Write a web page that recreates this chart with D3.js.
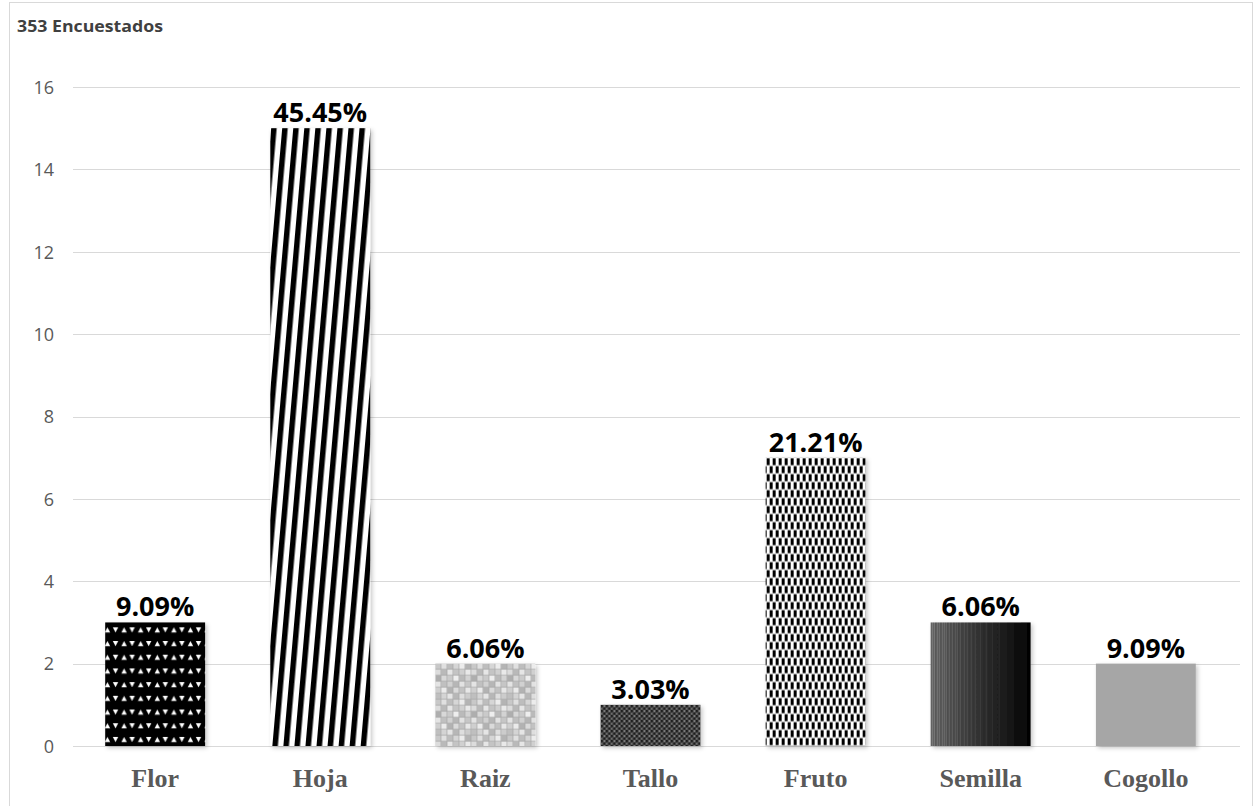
<!DOCTYPE html>
<html>
<head>
<meta charset="utf-8">
<script src="https://cdn.jsdelivr.net/npm/d3@7"></script>
<style>
  html, body { margin: 0; padding: 0; background: #fff; }
  svg { display: block; }
</style>
</head>
<body>
<svg id="chart" width="1255" height="806"></svg>
<script>
// Partes de la planta utilizadas
const categories = ["Flor", "Hoja", "Raiz", "Tallo", "Fruto", "Semilla", "Cogollo"];
const counts = [3, 15, 2, 1, 7, 3, 2];
const percentLabels = ["9.09%", "45.45%", "6.06%", "3.03%", "21.21%", "6.06%", "9.09%"];
const yTicks = [0, 2, 4, 6, 8, 10, 12, 14, 16];
const fillIds = ["pFlor", "pHoja", "pRaiz", "pTallo", "pFruto", "pSemilla", null];

// tonos del mosaico gris (fila por fila)
const mosaicShades = [
  "#c8c8c8","#e0e0e0","#bdbdbd","#d6d6d6","#ececec","#b4b4b4",
  "#dcdcdc","#b9b9b9","#e6e6e6","#c4c4c4","#d0d0d0","#e9e9e9",
  "#aeaeae","#d8d8d8","#cacaca","#eeeeee","#bababa","#d3d3d3",
  "#e4e4e4","#c0c0c0","#d1d1d1","#b6b6b6","#e2e2e2","#c6c6c6",
  "#cfcfcf","#ebebeb","#b2b2b2","#dadada","#c2c2c2","#e7e7e7",
  "#bfbfbf","#d4d4d4","#e5e5e5","#b7b7b7","#dedede","#cccccc"
];

const svg = d3.select("#chart");

// marco exterior
svg.append("rect").attr("x", 9.5).attr("y", 2.5).attr("width", 1243).attr("height", 810)
  .attr("fill", "#fff").attr("stroke", "#d9d9d9").attr("stroke-width", 1);

// Escalas
const x = d3.scaleBand().domain(categories).range([73, 1228]).paddingInner(0.395).paddingOuter(0.195);
const y = d3.scaleLinear().domain([0, 16]).range([746, 87]);

const defs = svg.append("defs");

// Sombra de las barras
const sh = defs.append("filter").attr("id", "shadow").attr("x", "-10%").attr("y", "-10%").attr("width", "130%").attr("height", "130%");
sh.append("feDropShadow").attr("dx", 2).attr("dy", 2).attr("stdDeviation", 2)
  .attr("flood-color", "#000").attr("flood-opacity", 0.22);

const bx = c => x(c);
const by = i => y(counts[i]);

// Flor: triángulos blancos sobre negro
const pf = defs.append("pattern").attr("id", "pFlor").attr("patternUnits", "userSpaceOnUse")
  .attr("width", 16.6).attr("height", 13.7).attr("x", bx("Flor") - 2).attr("y", by(0));
pf.append("rect").attr("width", 16.6).attr("height", 13.7).attr("fill", "#000");
pf.append("path").attr("d", "M1.6,10 L4.3,5 L7,10 Z").attr("fill", "#fff");
pf.append("path").attr("d", "M9.6,5 L15,5 L12.3,10 Z").attr("fill", "#fff");

// Hoja: franjas diagonales
const ph = defs.append("pattern").attr("id", "pHoja").attr("patternUnits", "userSpaceOnUse")
  .attr("width", 11).attr("height", 40).attr("x", bx("Hoja")).attr("patternTransform", "rotate(5)");
ph.append("rect").attr("width", 11).attr("height", 40).attr("fill", "#fff");
ph.append("rect").attr("width", 5.5).attr("height", 40).attr("fill", "#000");

// Raiz: mosaico gris
const cell = 6;
const pr = defs.append("pattern").attr("id", "pRaiz").attr("patternUnits", "userSpaceOnUse")
  .attr("width", cell * 6).attr("height", cell * 6).attr("x", bx("Raiz")).attr("y", by(2));
pr.append("rect").attr("width", cell * 6).attr("height", cell * 6).attr("fill", "#a8a8a8");
mosaicShades.forEach((c, i) => {
  pr.append("rect").attr("x", (i % 6) * cell).attr("y", Math.floor(i / 6) * cell)
    .attr("width", cell - 0.7).attr("height", cell - 0.7).attr("fill", c);
});

// Tallo: malla de círculos oscuros
const pt = defs.append("pattern").attr("id", "pTallo").attr("patternUnits", "userSpaceOnUse")
  .attr("width", 5).attr("height", 5).attr("x", bx("Tallo")).attr("y", by(3));
pt.append("rect").attr("width", 5).attr("height", 5).attr("fill", "#6e6e6e");
pt.append("circle").attr("cx", 1.25).attr("cy", 1.25).attr("r", 1.5).attr("fill", "#1c1c1c");
pt.append("circle").attr("cx", 3.75).attr("cy", 3.75).attr("r", 1.5).attr("fill", "#1c1c1c");
pt.append("circle").attr("cx", 3.75).attr("cy", 1.25).attr("r", 0.6).attr("fill", "#b0b0b0");

// Fruto: damero vertical
const pfr = defs.append("pattern").attr("id", "pFruto").attr("patternUnits", "userSpaceOnUse")
  .attr("width", 6).attr("height", 16).attr("x", bx("Fruto") + 1).attr("y", by(4));
pfr.append("rect").attr("width", 6).attr("height", 16).attr("fill", "#fff");
pfr.append("rect").attr("x", 0).attr("y", 0.5).attr("width", 3).attr("height", 7).attr("fill", "#000");
pfr.append("rect").attr("x", 3).attr("y", 8.5).attr("width", 3).attr("height", 7).attr("fill", "#000");

// Semilla: degradado con líneas verticales finas
const lg = defs.append("linearGradient").attr("id", "gSemilla").attr("x1", "0").attr("x2", "1").attr("y1", "0").attr("y2", "0");
lg.append("stop").attr("offset", "0").attr("stop-color", "#5c5c5c");
lg.append("stop").attr("offset", "0.5").attr("stop-color", "#2e2e2e");
lg.append("stop").attr("offset", "1").attr("stop-color", "#030303");
const ps = defs.append("pattern").attr("id", "pSemilla").attr("patternUnits", "userSpaceOnUse")
  .attr("width", x.bandwidth()).attr("height", 10).attr("x", bx("Semilla")).attr("y", by(5));
ps.append("rect").attr("width", x.bandwidth()).attr("height", 10).attr("fill", "url(#gSemilla)");
const semLines = [1, 3, 6, 8, 11, 13, 15, 18, 21, 24, 26, 29, 33, 36, 40, 44, 49, 55, 61, 68, 75];
semLines.forEach((lx, i) => {
  ps.append("rect").attr("x", lx).attr("width", 1).attr("height", 10)
    .attr("fill", "#fff").attr("opacity", Math.max(0.04, 0.22 - i * 0.009));
});

// Líneas de cuadrícula
svg.append("g").selectAll("line").data(yTicks).join("line")
  .attr("x1", 73).attr("x2", 1240)
  .attr("y1", d => Math.round(y(d)) + 0.5).attr("y2", d => Math.round(y(d)) + 0.5)
  .attr("stroke", "#d9d9d9").attr("stroke-width", 1);

// Eje Y
const yAxis = d3.axisLeft(y).tickValues(yTicks).tickSize(0).tickPadding(0);
const gy = svg.append("g").attr("transform", "translate(54,0)").call(yAxis);
gy.select(".domain").remove();
gy.selectAll("text").attr("fill", "#595959").attr("font-family", "'Open Sans', sans-serif")
  .attr("font-size", 18).attr("dy", "0.35em");

// Barras
svg.append("g").selectAll("rect").data(categories).join("rect")
  .attr("x", d => x(d))
  .attr("y", (d, i) => y(counts[i]))
  .attr("width", x.bandwidth())
  .attr("height", (d, i) => y(0) - y(counts[i]))
  .attr("fill", (d, i) => fillIds[i] ? `url(#${fillIds[i]})` : "#a6a6a6")
  .attr("filter", "url(#shadow)");

// Etiquetas de porcentaje
svg.append("g").selectAll("text").data(categories).join("text")
  .attr("x", d => x(d) + x.bandwidth() / 2)
  .attr("y", (d, i) => y(counts[i]) - 6)
  .attr("text-anchor", "middle")
  .attr("font-family", "'Open Sans', sans-serif")
  .attr("font-weight", 700)
  .attr("font-size", 27)
  .attr("fill", "#000")
  .text((d, i) => percentLabels[i]);

// Eje X
const xAxis = d3.axisBottom(x).tickSize(0).tickPadding(0);
const gx = svg.append("g").attr("transform", "translate(0,778)").call(xAxis);
gx.select(".domain").remove();
gx.selectAll("text").attr("fill", "#595959").attr("font-family", "'Liberation Serif', 'Times New Roman', serif")
  .attr("font-weight", 700).attr("font-size", 26).attr("dy", "0.35em");

// Título
svg.append("text").attr("x", 17).attr("y", 32)
  .attr("font-family", "'Open Sans', sans-serif").attr("font-weight", 700)
  .attr("font-size", 16).attr("fill", "#404040")
  .attr("textLength", 146).attr("lengthAdjust", "spacingAndGlyphs")
  .text("353 Encuestados");
</script>
</body>
</html>
